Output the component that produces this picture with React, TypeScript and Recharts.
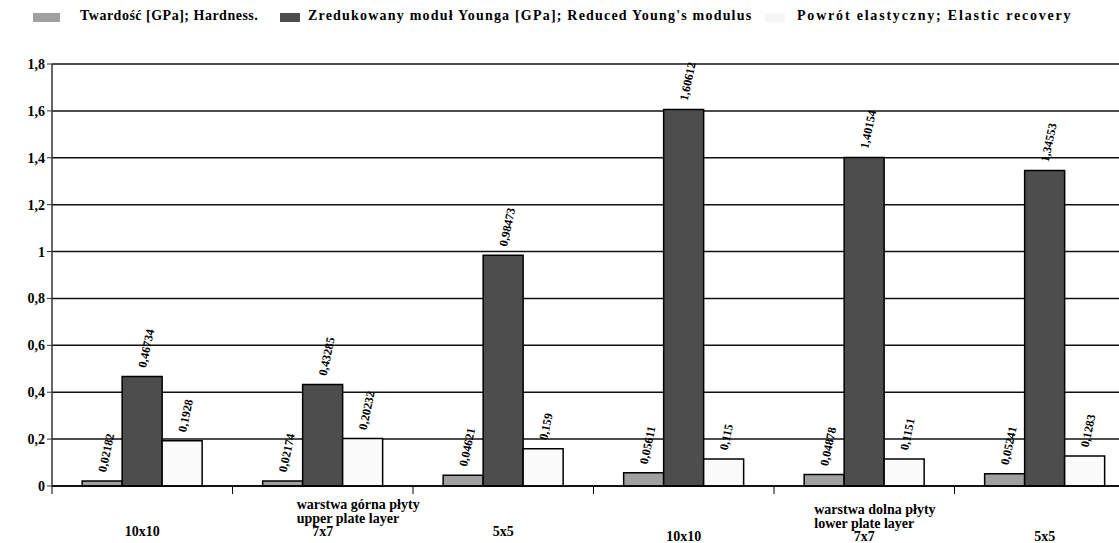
import { BarChart, Bar, XAxis, YAxis, CartesianGrid, LabelList } from "recharts";

// Sample grid sizes along the x axis, grouped by plate layer
const sizes = ["10x10", "7x7", "5x5", "10x10", "7x7", "5x5"];
const layerTitles = [
  ["warstwa górna płyty", "upper plate layer"],
  ["warstwa dolna płyty", "lower plate layer"],
];

const hardness = [0.02182, 0.02174, 0.04621, 0.05611, 0.04878, 0.05241];
const modulus = [0.46734, 0.43285, 0.98473, 1.60612, 1.40154, 1.34553];
const recovery = [0.1928, 0.20232, 0.159, 0.115, 0.1151, 0.1283];

const yTicks = [0, 0.2, 0.4, 0.6, 0.8, 1, 1.2, 1.4, 1.6, 1.8];

const seriesNames = [
  "Twardość [GPa]; Hardness.",
  "Zredukowany moduł Younga [GPa]; Reduced Young's modulus",
  "Powrót elastyczny; Elastic recovery",
];

const data = sizes.map((s, i) => ({
  key: `${i}-${s}`,
  hardness: hardness[i],
  modulus: modulus[i],
  recovery: recovery[i],
}));

const SERIF = '"Liberation Serif", "Times New Roman", serif';
const comma = (v: number) => String(v).replace(".", ",");

const ValueLabel = (props: any) => {
  const { x, y, width, value } = props;
  const cx = x + width / 2;
  const cy = y - 9;
  return (
    <text
      x={cx}
      y={cy}
      transform={`rotate(-78 ${cx} ${cy})`}
      textAnchor="start"
      dominantBaseline="central"
      fontSize={12}
      fontWeight="bold"
      fontFamily={SERIF}
      fill="#000"
    >
      {comma(value)}
    </text>
  );
};

const CategoryTick = (props: any) => {
  const { x, y, payload, index } = props;
  const half = payload?.offset ?? 90;
  const layer = Math.floor(index / 3);
  const dy = layer * 5;
  const titleShift = layer === 0 ? -26 : -50;
  return (
    <g fontFamily={SERIF} fontWeight="bold" fontSize={14} fill="#000">
      <line x1={x - half} x2={x - half} y1={y} y2={y + 8} stroke="#000" strokeWidth={1} />
      <text x={x} y={y + 50 + dy} textAnchor="middle">
        {sizes[index]}
      </text>
      {index % 3 === 1 &&
        layerTitles[layer].map((line, k) => (
          <text key={k} x={x + titleShift} y={y + 23 + dy + k * 14} textAnchor="start">
            {line}
          </text>
        ))}
    </g>
  );
};

// legend swatch placement and text tracking
const legendSwatches = [
  { color: "#a0a0a0", left: 33, w: 27, text: 80, spacing: 0.5 },
  { color: "#4d4d4d", left: 280, w: 20, text: 308, spacing: 1.2 },
  { color: "#f6f6f6", left: 765, w: 20, text: 797, spacing: 1.8 },
];

export default function App() {
  return (
    <div
      style={{
        position: "fixed",
        left: 0,
        top: 0,
        width: 1119,
        height: 543,
        overflow: "hidden",
        background: "#fff",
        fontFamily: SERIF,
      }}
    >
      {legendSwatches.map((s, i) => (
        <div key={i}>
          <div
            style={{ position: "absolute", left: s.left, top: 13, width: s.w, height: 9, background: s.color }}
          />
          <div
            style={{
              position: "absolute",
              left: s.text,
              top: 8,
              fontSize: 14,
              fontWeight: "bold",
              letterSpacing: s.spacing,
              whiteSpace: "nowrap",
              color: "#000",
            }}
          >
            {seriesNames[i]}
          </div>
        </div>
      ))}
      <BarChart
        width={1150}
        height={543}
        data={data}
        margin={{ top: 64, right: 15, left: 0, bottom: 27 }}
        barCategoryGap="16.7%"
        barGap={0}
      >
        <CartesianGrid vertical={false} stroke="#111" strokeWidth={1.5} />
        <XAxis
          dataKey="key"
          height={30}
          interval={0}
          tickSize={0}
          tickMargin={0}
          tickLine={false}
          axisLine={{ stroke: "#000", strokeWidth: 1.5 }}
          tick={<CategoryTick />}
        />
        <YAxis
          width={52}
          domain={[0, 1.8]}
          ticks={yTicks}
          interval={0}
          tickSize={5}
          tickFormatter={comma}
          axisLine={{ stroke: "#333", strokeWidth: 1.5 }}
          tickLine={{ stroke: "#333" }}
          tick={{ fontSize: 14, fontWeight: "bold", fill: "#000", fontFamily: SERIF }}
        />
        <Bar dataKey="hardness" fill="#a0a0a0" stroke="#000" strokeWidth={1.5} isAnimationActive={false}>
          <LabelList dataKey="hardness" content={<ValueLabel />} />
        </Bar>
        <Bar dataKey="modulus" fill="#4d4d4d" stroke="#000" strokeWidth={1.5} isAnimationActive={false}>
          <LabelList dataKey="modulus" content={<ValueLabel />} />
        </Bar>
        <Bar dataKey="recovery" fill="#fafafa" stroke="#000" strokeWidth={1.5} isAnimationActive={false}>
          <LabelList dataKey="recovery" content={<ValueLabel />} />
        </Bar>
      </BarChart>
    </div>
  );
}
